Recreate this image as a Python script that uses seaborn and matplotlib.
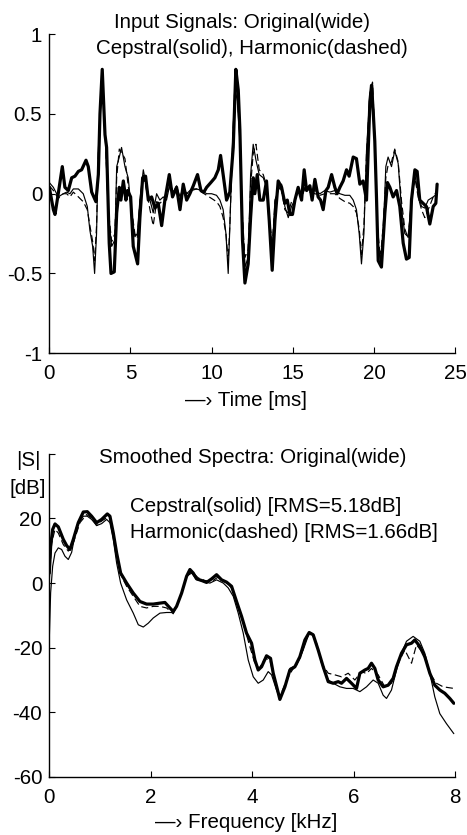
import numpy as np
import pandas as pd
import matplotlib
matplotlib.use("Agg")
import matplotlib.pyplot as plt
import seaborn as sns

# ---------------- data: time signals ----------------
t_orig = [0.00, 0.25, 0.35, 0.55, 0.80, 0.96, 1.17, 1.38, 1.58, 1.79, 1.99, 2.26, 2.40, 2.61, 2.87,
          3.02, 3.12, 3.26, 3.43, 3.53, 3.69, 3.80, 4.00, 4.15, 4.31, 4.41, 4.56, 4.72, 4.82, 5.01,
          5.17, 5.44, 5.58, 5.75, 5.93, 6.10, 6.30, 6.51, 6.71, 6.92, 7.12, 7.39, 7.59, 7.84, 8.05,
          8.25, 8.46, 8.66, 8.87, 9.13, 9.34, 9.52, 9.69, 9.95, 10.20, 10.41, 10.55, 10.71, 10.92,
          11.12, 11.33, 11.49, 11.64, 11.74, 11.90, 12.05, 12.25, 12.40, 12.56, 12.66, 12.81, 12.97,
          13.18, 13.38, 13.55, 13.73, 13.90, 14.10, 14.31, 14.51, 14.66, 14.82, 14.98, 15.13, 15.33,
          15.54, 15.70, 15.85, 16.05, 16.19, 16.36, 16.56, 16.71, 16.87, 17.04, 17.18, 17.39, 17.59,
          17.73, 17.90, 18.10, 18.31, 18.47, 18.72, 18.92, 19.13, 19.33, 19.54, 19.75, 19.85, 19.95,
          20.05, 20.16, 20.26, 20.46, 20.67, 20.83, 20.98, 21.18, 21.39, 21.59, 21.80, 22.00, 22.17,
          22.31, 22.52, 22.66, 22.82, 23.03, 23.23, 23.44, 23.65, 23.81, 23.89]
v_orig = [0.04, -0.10, -0.13, 0.00, 0.17, 0.04, 0.02, 0.10, 0.11, 0.14, 0.15, 0.21, 0.17, 0.01, -0.05,
          0.12, 0.50, 0.78, 0.37, 0.29, -0.31, -0.50, -0.49, -0.12, 0.04, -0.04, 0.08, -0.04, 0.02, -0.02,
          -0.33, -0.44, -0.15, 0.10, 0.11, -0.04, -0.02, -0.09, -0.06, -0.20, -0.04, 0.12, -0.02, 0.04, -0.10,
          0.06, -0.04, 0.00, 0.05, 0.12, 0.02, 0.01, 0.04, 0.07, 0.10, 0.15, 0.24, 0.12, -0.04,
          0.01, 0.29, 0.78, 0.65, 0.40, -0.29, -0.56, -0.44, -0.15, 0.10, 0.00, 0.12, -0.04,
          -0.04, 0.08, -0.17, -0.48, -0.17, 0.08, 0.04, -0.06, -0.04, -0.13, -0.13, -0.04, 0.04,
          -0.04, 0.15, 0.02, 0.05, -0.04, 0.09, -0.02, -0.04, -0.10, 0.02, 0.04, 0.12, 0.04,
          0.00, 0.04, 0.08, 0.15, 0.11, 0.23, 0.22, 0.06, 0.08, -0.04, 0.58, 0.68, 0.52,
          0.33, -0.04, -0.42, -0.46, -0.12, 0.07, 0.04, -0.02, 0.02, -0.08, -0.31, -0.41, -0.40,
          -0.04, 0.15, 0.14, -0.04, -0.06, -0.08, -0.19, -0.08, -0.06, 0.06]

t_model = [0.00, 0.25, 0.55, 0.86, 1.07, 1.27, 1.48, 1.79, 2.09, 2.34, 2.50, 2.67, 2.79, 2.91, 3.02,
           3.12, 3.26, 3.43, 3.63, 3.84, 4.04, 4.15, 4.31, 4.45, 4.66, 4.86, 5.07, 5.27, 5.42, 5.58,
           5.79, 5.99, 6.20, 6.40, 6.61, 6.81, 7.02, 7.22, 7.43, 7.64, 7.84, 8.05, 8.25, 8.46, 8.76,
           9.07, 9.38, 9.69, 10.00, 10.30, 10.51, 10.71, 10.88, 11.02, 11.12, 11.27, 11.43, 11.58,
           11.74, 11.90, 12.05, 12.25, 12.40, 12.56, 12.73, 12.93, 13.18, 13.38, 13.59, 13.75, 13.90,
           14.10, 14.31, 14.51, 14.72, 14.92, 15.13, 15.33, 15.54, 15.74, 16.05, 16.36, 16.67, 16.97,
           17.28, 17.59, 17.90, 18.21, 18.51, 18.72, 18.92, 19.09, 19.23, 19.38, 19.54, 19.75, 19.91,
           20.05, 20.20, 20.40, 20.57, 20.73, 20.87, 21.08, 21.28, 21.49, 21.70, 21.90, 22.10, 22.31,
           22.52, 22.72, 22.93, 23.13, 23.34, 23.65, 23.89]
v_cep = [0.07, 0.04, -0.02, 0.00, 0.01, 0.00, 0.03, 0.03, 0.00, -0.08, -0.23, -0.33, -0.50, -0.25, 0.27,
         0.48, 0.73, 0.42, -0.12, -0.33, -0.29, 0.17, 0.23, 0.29, 0.17, 0.10, -0.12, -0.27, -0.25, -0.04,
         0.15, 0.04, -0.04, -0.12, 0.00, -0.04, -0.02, -0.04, 0.06, 0.01, 0.05, -0.02, 0.04, 0.00, 0.03,
         0.03, 0.02, 0.00, 0.00, -0.01, -0.04, -0.10, -0.25, -0.50, -0.21, 0.27, 0.67, 0.58,
         0.33, -0.17, -0.46, -0.40, 0.12, 0.31, 0.21, 0.12, 0.10, 0.04, -0.25, -0.33, -0.04,
         0.02, 0.06, -0.08, -0.15, -0.08, -0.04, 0.02, -0.02, 0.04, 0.02, 0.02, 0.00, 0.02,
         0.01, 0.02, 0.00, -0.01, -0.01, -0.04, -0.10, -0.25, -0.44, -0.25, 0.27, 0.63, 0.69,
         0.33, -0.25, -0.44, -0.25, 0.17, 0.23, 0.17, 0.27, 0.19, -0.10, -0.25, -0.27, -0.04,
         0.12, 0.00, -0.08, -0.09, -0.04, -0.02, 0.00]
v_harm = [0.05, 0.02, -0.03, 0.00, 0.00, -0.02, 0.01, -0.02, -0.05, -0.10, -0.20, -0.30, -0.42, -0.20, 0.25,
          0.50, 0.74, 0.40, -0.10, -0.30, -0.25, 0.10, 0.28, 0.26, 0.22, 0.05, -0.10, -0.25, -0.28, -0.05,
          0.12, 0.02, -0.10, -0.20, -0.05, -0.06, -0.04, -0.02, 0.05, 0.00, 0.04, -0.03, 0.03, 0.00, 0.02,
          0.03, 0.01, -0.01, -0.03, -0.05, -0.08, -0.15, -0.25, -0.42, -0.20, 0.25, 0.68, 0.62,
          0.35, -0.15, -0.40, -0.35, 0.05, 0.25, 0.31, 0.15, 0.12, 0.05, -0.20, -0.30, -0.05,
          0.05, 0.02, -0.10, -0.12, -0.05, -0.04, 0.02, -0.02, 0.03, 0.01, 0.00, -0.01, 0.00,
          0.00, 0.00, -0.03, -0.05, -0.06, -0.08, -0.12, -0.22, -0.38, -0.20, 0.25, 0.62, 0.70,
          0.35, -0.20, -0.40, -0.20, 0.10, 0.18, 0.20, 0.28, 0.20, -0.05, -0.22, -0.28, -0.05,
          0.10, -0.02, -0.10, -0.15, -0.10, -0.02, 0.02]

# ---------------- data: spectra ----------------
f_orig = [0.000, 0.026, 0.066, 0.112, 0.177, 0.276, 0.342, 0.407, 0.473, 0.571, 0.670, 0.749, 0.834,
          0.933, 1.031, 1.143, 1.195, 1.261, 1.327, 1.406, 1.524, 1.655, 1.787, 1.918, 2.049, 2.181,
          2.279, 2.378, 2.443, 2.509, 2.608, 2.706, 2.772, 2.837, 2.903, 3.002, 3.100, 3.199, 3.297,
          3.396, 3.494, 3.593, 3.691, 3.790, 3.888, 3.987, 4.053, 4.118, 4.184, 4.282, 4.361, 4.414,
          4.499, 4.545, 4.644, 4.742, 4.841, 4.939, 5.038, 5.123, 5.202, 5.300, 5.399, 5.498, 5.596,
          5.695, 5.760, 5.859, 5.957, 6.056, 6.122, 6.220, 6.286, 6.351, 6.417, 6.483, 6.581, 6.680,
          6.778, 6.844, 6.943, 7.041, 7.140, 7.205, 7.304, 7.402, 7.501, 7.599, 7.698, 7.796, 7.895, 7.974]
s_orig = [3.1, 11.4, 16.6, 18.3, 17.4, 13.5, 11.6, 10.4, 13.5, 18.7, 22.0, 22.1, 20.7,
          18.7, 19.7, 21.4, 20.7, 15.5, 9.3, 3.1, 0.0, -3.1, -5.7, -6.5, -6.5, -6.2,
          -6.0, -7.7, -8.8, -7.2, -3.1, 2.1, 4.2, 3.1, 1.3, 0.8, 0.2, 1.3, 2.6,
          1.0, 0.3, -1.0, -5.7, -10.3, -15.5, -18.6, -23.8, -26.9, -25.9, -22.5, -23.3, -27.9,
          -33.1, -36.0, -32.1, -26.9, -25.9, -22.8, -17.6, -15.3, -16.0, -20.7, -25.9, -30.5, -31.0,
          -30.5, -31.0, -29.5, -31.0, -32.6, -27.9, -26.9, -26.4, -24.8, -26.4, -30.0, -32.1, -31.6,
          -29.5, -25.9, -21.7, -19.1, -18.6, -17.6, -19.6, -22.8, -27.9, -31.6, -33.1, -34.1, -35.7, -37.2]

f_cep = [0.000, 0.026, 0.066, 0.112, 0.177, 0.243, 0.309, 0.374, 0.440, 0.539, 0.670, 0.749, 0.834,
         0.933, 1.031, 1.130, 1.195, 1.261, 1.327, 1.406, 1.524, 1.655, 1.754, 1.852, 1.951, 2.049,
         2.181, 2.312, 2.411, 2.509, 2.608, 2.706, 2.805, 2.903, 3.034, 3.166, 3.297, 3.429, 3.527,
         3.626, 3.724, 3.823, 3.921, 4.020, 4.118, 4.217, 4.315, 4.381, 4.479, 4.545, 4.644, 4.742,
         4.874, 5.005, 5.123, 5.202, 5.300, 5.399, 5.498, 5.596, 5.727, 5.859, 5.990, 6.122, 6.253,
         6.384, 6.483, 6.581, 6.647, 6.745, 6.844, 6.943, 7.041, 7.172, 7.304, 7.402, 7.501, 7.599,
         7.698, 7.829, 7.974]
s_cep = [-17.0, -3.0, 5.2, 9.3, 10.9, 10.4, 8.3, 7.3, 9.5, 17.6, 20.7, 20.7, 19.7,
         17.8, 18.4, 19.7, 18.7, 13.5, 6.2, 0.0, -5.2, -9.3, -12.9, -13.6, -12.4, -10.8,
         -9.3, -9.1, -9.1, -7.2, -3.1, 2.1, 3.1, 1.1, 0.5, 0.0, 1.0, 0.0, -1.5,
         -4.1, -9.3, -15.5, -23.8, -29.0, -31.0, -30.0, -27.4, -28.4, -33.1, -35.7, -32.1, -26.4,
         -25.4, -20.7, -15.5, -16.0, -20.7, -26.4, -30.0, -31.0, -32.1, -32.6, -32.6, -33.6, -32.1,
         -30.0, -31.0, -34.7, -35.7, -33.1, -26.9, -21.7, -18.0, -16.5, -18.0, -21.7, -27.9, -35.2,
         -40.4, -43.5, -46.6]

f_harm = [0.000, 0.046, 0.112, 0.177, 0.276, 0.374, 0.473, 0.604, 0.736, 0.834, 0.933, 1.031, 1.130,
          1.195, 1.294, 1.392, 1.524, 1.655, 1.787, 1.918, 2.049, 2.181, 2.312, 2.443, 2.575, 2.706,
          2.805, 2.936, 3.067, 3.199, 3.330, 3.461, 3.593, 3.691, 3.823, 3.954, 4.053, 4.138, 4.250,
          4.348, 4.447, 4.545, 4.677, 4.808, 4.939, 5.071, 5.169, 5.268, 5.366, 5.498, 5.629, 5.760,
          5.892, 6.023, 6.154, 6.253, 6.351, 6.483, 6.614, 6.745, 6.877, 7.008, 7.140, 7.238, 7.369,
          7.501, 7.632, 7.764, 7.974]
s_harm = [1.0, 12.4, 16.6, 15.5, 11.9, 9.9, 12.4, 18.7, 21.2, 20.2, 17.8, 19.2, 20.2,
          19.7, 12.4, 3.1, -1.0, -4.1, -7.2, -7.7, -7.2, -7.2, -7.7, -9.5, -4.6, 2.1,
          3.6, 1.6, 0.8, 0.5, 1.9, 0.5, -1.5, -5.7, -12.4, -19.7, -24.9, -26.4, -23.3,
          -23.8, -30.5, -35.2, -30.0, -26.4, -23.3, -17.1, -15.5, -18.6, -24.8, -27.9, -28.4, -29.0,
          -27.9, -30.0, -27.4, -28.0, -26.4, -28.4, -32.1, -31.0, -24.8, -20.7, -24.8, -19.1, -21.7,
          -27.9, -31.0, -32.1, -32.6]

time_ticks = [0, 5, 10, 15, 20, 25]
amp_ticks = [-1, -0.5, 0, 0.5, 1]
amp_labels = ["-1", "-0.5", "0", "0.5", "1"]
freq_ticks = [0, 2, 4, 6, 8]
db_ticks = [-60, -40, -20, 0, 20, 40]
db_labels = ["-60", "-40", "-20", "0", "20", ""]

# ---------------- style ----------------
sns.set_style("ticks")
plt.rcParams['font.family'] = ['Liberation Sans', 'DejaVu Sans']
plt.rcParams['axes.unicode_minus'] = False
FS = 14.8

W, H = 467, 835
fig = plt.figure(figsize=(W / 100, H / 100), dpi=100)
fig.patch.set_facecolor("white")

ax1 = fig.add_axes([0.1056, 0.577, 0.869, 0.382])
ax2 = fig.add_axes([0.1056, 0.0695, 0.869, 0.387])

df_o = pd.DataFrame({"t": t_orig, "v": v_orig})
df_m = pd.DataFrame({"t": t_model, "c": v_cep, "h": v_harm})
sns.lineplot(data=df_m, x="t", y="c", ax=ax1, color="black", linewidth=0.85, estimator=None)
sns.lineplot(data=df_m, x="t", y="h", ax=ax1, color="black", linewidth=0.85, estimator=None,
             linestyle=(0, (6, 3)))
sns.lineplot(data=df_o, x="t", y="v", ax=ax1, color="black", linewidth=2.3, estimator=None)

df_so = pd.DataFrame({"f": f_orig, "s": s_orig})
df_sc = pd.DataFrame({"f": f_cep, "s": s_cep})
df_sh = pd.DataFrame({"f": f_harm, "s": s_harm})
sns.lineplot(data=df_sc, x="f", y="s", ax=ax2, color="black", linewidth=0.85, estimator=None)
sns.lineplot(data=df_sh, x="f", y="s", ax=ax2, color="black", linewidth=0.85, estimator=None,
             linestyle=(0, (6, 3)))
sns.lineplot(data=df_so, x="f", y="s", ax=ax2, color="black", linewidth=2.3, estimator=None)

for ax in (ax1, ax2):
    ax.set_xlabel("")
    ax.set_ylabel("")
    ax.set_facecolor("white")
    for s in ("top", "right"):
        ax.spines[s].set_visible(False)
    for s in ("left", "bottom"):
        ax.spines[s].set_linewidth(1.0)
        ax.spines[s].set_color("black")
    ax.tick_params(direction="in", length=4, width=0.8, colors="black", labelsize=FS)
    ax.tick_params(axis="x", pad=8)
    ax.tick_params(axis="y", pad=5)

ax1.set_xlim(0, 25)
ax1.set_ylim(-1, 1)
ax1.set_xticks(time_ticks)
ax1.set_yticks(amp_ticks)
ax1.set_yticklabels(amp_labels)

ax2.set_xlim(0, 8)
ax2.set_ylim(-60, 40)
ax2.set_xticks(freq_ticks)
ax2.set_yticks(db_ticks)
ax2.set_yticklabels(db_labels)


def ftext(x, y, s, ha="center"):
    fig.text(x / W, 1 - y / H, s, ha=ha, va="center", fontsize=FS, color="black")


ftext(242, 22, "Input Signals: Original(wide)")
ftext(252, 49, "Cepstral(solid), Harmonic(dashed)")
ftext(246, 400, "\u2014\u203a Time [ms]")

ftext(253, 458, "Smoothed Spectra: Original(wide)")
ftext(28, 460, "|S|")
ftext(28, 488, "[dB]")
ftext(130, 506, "Cepstral(solid) [RMS=5.18dB]", ha="left")
ftext(130, 533, "Harmonic(dashed) [RMS=1.66dB]", ha="left")
ftext(246, 823, "\u2014\u203a Frequency [kHz]")

fig.savefig("out.png", dpi=100, facecolor="white")
